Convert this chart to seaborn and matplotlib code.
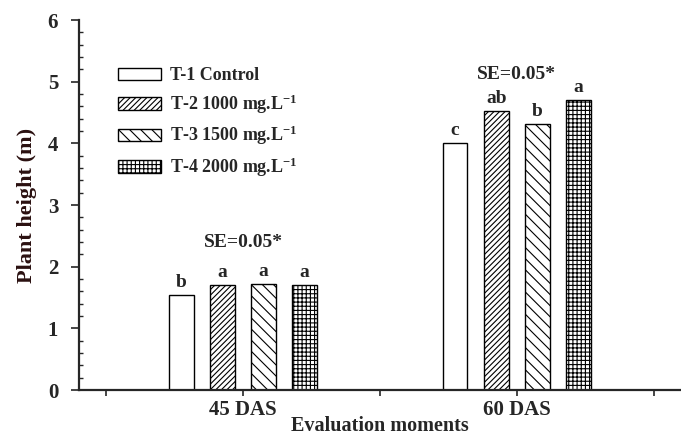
import seaborn as sns
import matplotlib.pyplot as plt
import pandas as pd
from matplotlib.patches import Patch
from matplotlib.ticker import MultipleLocator

# data
moments = ['45 DAS', '60 DAS']
treatments = ['T-1 Control', 'T-2 1000 mg.L$^{-1}$', 'T-3 1500 mg.L$^{-1}$', 'T-4 2000 mg.L$^{-1}$']
height_45 = [1.54, 1.70, 1.72, 1.70]
height_60 = [4.00, 4.52, 4.31, 4.70]
letters_45 = ['b', 'a', 'a', 'a']
letters_60 = ['c', 'ab', 'b', 'a']
se_labels = ['SE=0.05*', 'SE=0.05*']
se_y = [2.39, 5.12]

df = pd.DataFrame({
    'moment': [moments[0]] * 4 + [moments[1]] * 4,
    'treatment': treatments * 2,
    'height': height_45 + height_60,
})

sns.set_style('ticks')
plt.rcParams['font.family'] = ['Liberation Serif', 'DejaVu Serif']
plt.rcParams['font.weight'] = 'bold'
plt.rcParams['mathtext.fontset'] = 'custom'
plt.rcParams['mathtext.rm'] = 'Liberation Serif:bold'
plt.rcParams['mathtext.bf'] = 'Liberation Serif:bold'
plt.rcParams['mathtext.default'] = 'bf'
plt.rcParams['hatch.linewidth'] = 0.8

fig = plt.figure(figsize=(6.81, 4.36), dpi=100)
ax = fig.add_axes([0.116, 0.1055, 0.884, 0.8486])

sns.barplot(data=df, x='moment', y='height', hue='treatment',
            hue_order=treatments, order=moments,
            width=0.6, gap=0.4, color='white', edgecolor='black',
            linewidth=1.0, legend=False, ax=ax)

hatches = ['', '//////', '\\\\\\', '++++']
for cont, h in zip(ax.containers, hatches):
    for bar in cont:
        bar.set_facecolor('white')
        bar.set_edgecolor('black')
        bar.set_hatch(h)

# significance letters
all_letters = [letters_45, letters_60]
for i, cont in enumerate(ax.containers):
    for j, bar in enumerate(cont):
        ax.annotate(all_letters[j][i],
                    (bar.get_x() + bar.get_width() / 2, bar.get_height()),
                    xytext=(0, 3), textcoords='offset points',
                    ha='center', va='bottom', fontsize=14, fontweight='bold')

for k, txt in enumerate(se_labels):
    ax.text(k, se_y[k], txt, ha='center', va='center', fontsize=14, fontweight='bold')

ax.set_ylim(0, 6)
ax.set_xlim(-0.599, 1.6)
ax.set_xticks([-0.5, 0, 0.5, 1, 1.5])
ax.set_xticklabels(['', '45 DAS', '', '60 DAS', ''], fontsize=15, fontweight='bold')
ax.yaxis.set_major_locator(MultipleLocator(1))
ax.yaxis.set_minor_locator(MultipleLocator(0.2))
ax.tick_params(axis='y', which='major', direction='out', length=6, width=1.2, labelsize=15, pad=9)
ax.tick_params(axis='y', which='minor', direction='in', length=3, width=1)
ax.tick_params(axis='x', which='major', direction='out', length=4, width=1.2, pad=3)
for lab in ax.get_yticklabels():
    lab.set_fontweight('bold')

ax.set_xlabel('Evaluation moments', fontsize=14.5, fontweight='bold', labelpad=-3)
ax.set_ylabel('Plant height (m)', fontsize=16, fontweight='bold', color='#2a1010', labelpad=8)

sns.despine(ax=ax)
for s in ['left', 'bottom']:
    ax.spines[s].set_linewidth(1.6)

handles = [Patch(facecolor='white', edgecolor='black', hatch=h, linewidth=1.0) for h in hatches]
ax.legend(handles=handles, labels=treatments, loc='upper left',
          bbox_to_anchor=(0.065, 0.872), frameon=False, fontsize=13,
          handlelength=2.4, handleheight=0.67, handletextpad=0.5,
          labelspacing=0.45, borderpad=0, borderaxespad=0)

fig.savefig('out.png', dpi=100)
